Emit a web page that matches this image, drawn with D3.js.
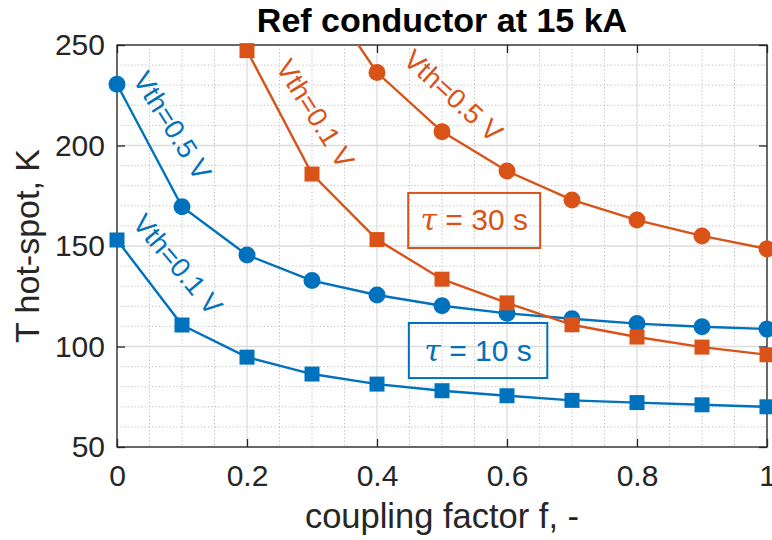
<html>
<script src="https://d3js.org/d3.v7.min.js"></script>
<style>
body { margin: 0; background: white; }
text { font-family: "Liberation Sans", Arial, Helvetica, sans-serif; }
</style>
<body>
<svg width="772" height="540"></svg>
<script>
// coupling factor f
var fAll = [0, 0.1, 0.2, 0.3, 0.4, 0.5, 0.6, 0.7, 0.8, 0.9, 1.0];
// tau = 10 s
var t10_v05 = [230.5, 169.5, 145.5, 132.8, 125.6, 120.3, 116.5, 113.8, 111.4, 109.8, 108.7];
var t10_v01 = [153, 110.7, 94.7, 86.3, 81.3, 78.0, 75.5, 73.2, 72.1, 71.0, 70.0];
// tau = 30 s (first points out of range / missing)
var fT30_v01 = [0.2, 0.3, 0.4, 0.5, 0.6, 0.7, 0.8, 0.9, 1.0];
var t30_v01 = [247.2, 185.8, 153.2, 133.5, 121.7, 110.8, 104.7, 99.7, 95.9];
var fT30_v05 = [0.3, 0.4, 0.5, 0.6, 0.7, 0.8, 0.9, 1.0];
var t30_v05 = [284, 236.3, 206.9, 187.3, 172.9, 162.9, 155.0, 148.6];

var xTicks = [0, 0.2, 0.4, 0.6, 0.8, 1];
var xTickLabels = ["0", "0.2", "0.4", "0.6", "0.8", "1"];
var yTicks = [50, 100, 150, 200, 250];

var blue = "#0072BD", orange = "#D95319";

var margin = {left: 117, top: 45, right: 5, bottom: 93};
var width = 772 - margin.left - margin.right;
var height = 540 - margin.top - margin.bottom;

var x = d3.scaleLinear().domain([0, 1]).range([0, width]);
var y = d3.scaleLinear().domain([50, 250]).range([height, 0]);

var svg = d3.select("svg");
var g = svg.append("g").attr("transform", "translate(" + margin.left + "," + margin.top + ")");

svg.append("defs").append("clipPath").attr("id", "clip")
  .append("rect").attr("width", width).attr("height", height);

// minor grid
g.append("g").selectAll("line").data(d3.range(0, 1.0001, 0.05).filter(function(d){ return Math.round(d*100) % 20 != 0; }))
  .enter().append("line")
  .attr("x1", function(d){ return x(d); }).attr("x2", function(d){ return x(d); })
  .attr("y1", 0).attr("y2", height)
  .attr("stroke", "#bdbdbd").attr("stroke-width", 1).attr("stroke-dasharray", "1.2,2.3");
g.append("g").selectAll("line").data(d3.range(50, 251, 10).filter(function(d){ return d % 50 != 0; }))
  .enter().append("line")
  .attr("y1", function(d){ return y(d); }).attr("y2", function(d){ return y(d); })
  .attr("x1", 0).attr("x2", width)
  .attr("stroke", "#bdbdbd").attr("stroke-width", 1).attr("stroke-dasharray", "1.2,2.3");

// major grid
g.append("g").selectAll("line").data(xTicks).enter().append("line")
  .attr("x1", function(d){ return x(d); }).attr("x2", function(d){ return x(d); })
  .attr("y1", 0).attr("y2", height)
  .attr("stroke", "#dcdcdc").attr("stroke-width", 1.3);
g.append("g").selectAll("line").data(yTicks).enter().append("line")
  .attr("y1", function(d){ return y(d); }).attr("y2", function(d){ return y(d); })
  .attr("x1", 0).attr("x2", width)
  .attr("stroke", "#dcdcdc").attr("stroke-width", 1.3);

// axes (ticks inward, all four sides)
var axisColor = "#262626";
function styleAxis(sel) {
  sel.select(".domain").remove();
  sel.selectAll(".tick line").attr("stroke", axisColor).attr("stroke-width", 1.3);
  sel.selectAll(".tick text").attr("fill", axisColor).style("font-size", "30px")
    .style("font-family", "'Liberation Sans', Arial, sans-serif");
}
g.append("g").attr("transform", "translate(0," + height + ")")
  .call(d3.axisBottom(x).tickValues(xTicks).tickFormat(function(d, i){ return xTickLabels[i]; })
    .tickSizeInner(-8).tickSizeOuter(0).tickPadding(18))
  .call(styleAxis);
g.append("g")
  .call(d3.axisTop(x).tickValues(xTicks).tickFormat("").tickSizeInner(-8).tickSizeOuter(0))
  .call(styleAxis);
g.append("g")
  .call(d3.axisLeft(y).tickValues(yTicks).tickSizeInner(-8).tickSizeOuter(0).tickPadding(12))
  .call(styleAxis);
g.append("g").attr("transform", "translate(" + width + ",0)")
  .call(d3.axisRight(y).tickValues(yTicks).tickFormat("").tickSizeInner(-8).tickSizeOuter(0))
  .call(styleAxis);

g.append("rect").attr("width", width).attr("height", height)
  .attr("fill", "none").attr("stroke", axisColor).attr("stroke-width", 1.3);

// series
var series = [
  {f: fAll, v: t10_v05, color: blue, marker: "circle"},
  {f: fAll, v: t10_v01, color: blue, marker: "square"},
  {f: fT30_v01, v: t30_v01, color: orange, marker: "square"},
  {f: fT30_v05, v: t30_v05, color: orange, marker: "circle"}
];
var line = d3.line().x(function(d){ return x(d[0]); }).y(function(d){ return y(d[1]); });

series.forEach(function(s) {
  var pts = s.f.map(function(f, i){ return [f, s.v[i]]; });
  g.append("path").datum(pts)
    .attr("clip-path", "url(#clip)")
    .attr("fill", "none").attr("stroke", s.color).attr("stroke-width", 2.4)
    .attr("d", line);
  var inside = pts.filter(function(p){ return p[1] <= 250; });
  if (s.marker == "circle") {
    g.append("g").selectAll("circle").data(inside).enter().append("circle")
      .attr("cx", function(d){ return x(d[0]); }).attr("cy", function(d){ return y(d[1]); })
      .attr("r", 8.5).attr("fill", s.color);
  } else {
    g.append("g").selectAll("rect").data(inside).enter().append("rect")
      .attr("x", function(d){ return x(d[0]) - 7.5; }).attr("y", function(d){ return y(d[1]) - 7.5; })
      .attr("width", 15).attr("height", 15).attr("fill", s.color);
  }
});

// curve labels: [text, x(f), y(value), angle, color]
var curveLabels = [
  ["Vth=0.5 V", 0.023, 233, 58, blue],
  ["Vth=0.1 V", 0.022, 161, 50, blue],
  ["Vth=0.1 V", 0.243, 239, 58, orange],
  ["Vth=0.5 V", 0.438, 241.5, 42, orange]
];
curveLabels.forEach(function(c) {
  g.append("text")
    .attr("transform", "translate(" + x(c[1]) + "," + y(c[2]) + ") rotate(" + c[3] + ")")
    .attr("fill", c[4]).style("font-size", "27.5px")
    .text(c[0]);
});

// tau boxes: [label, f0, f1, vTop, vBottom, color]
var boxes = [
  ["30 s", 0.448, 0.651, 176.4, 149.0, orange],
  ["10 s", 0.449, 0.662, 111.7, 84.3, blue]
];
boxes.forEach(function(b) {
  g.append("rect")
    .attr("x", x(b[1])).attr("y", y(b[3]))
    .attr("width", x(b[2]) - x(b[1])).attr("height", y(b[4]) - y(b[3]))
    .attr("fill", "none").attr("stroke", b[5]).attr("stroke-width", 2);
  var t = g.append("text")
    .attr("x", (x(b[1]) + x(b[2])) / 2)
    .attr("y", (y(b[3]) + y(b[4])) / 2 + 10)
    .attr("text-anchor", "middle").attr("fill", b[5]).style("font-size", "30px");
  t.append("tspan").style("font-style", "italic").style("font-family", "'DejaVu Serif', serif").text("\u03C4");
  t.append("tspan").text(" = " + b[0]);
});

// title and axis labels
svg.append("text").attr("x", margin.left + width / 2).attr("y", 32)
  .attr("text-anchor", "middle").style("font-size", "34px").style("font-weight", "bold")
  .attr("fill", "black").text("Ref conductor at 15 kA");

svg.append("text").attr("x", margin.left + width / 2).attr("y", 528)
  .attr("text-anchor", "middle").style("font-size", "34.5px").attr("fill", axisColor)
  .text("coupling factor f, -");

svg.append("text").attr("transform", "translate(39," + (margin.top + height / 2) + ") rotate(-90)")
  .attr("text-anchor", "middle").style("font-size", "34px").attr("fill", axisColor)
  .text("T hot-spot, K");
</script>
</body>
</html>
